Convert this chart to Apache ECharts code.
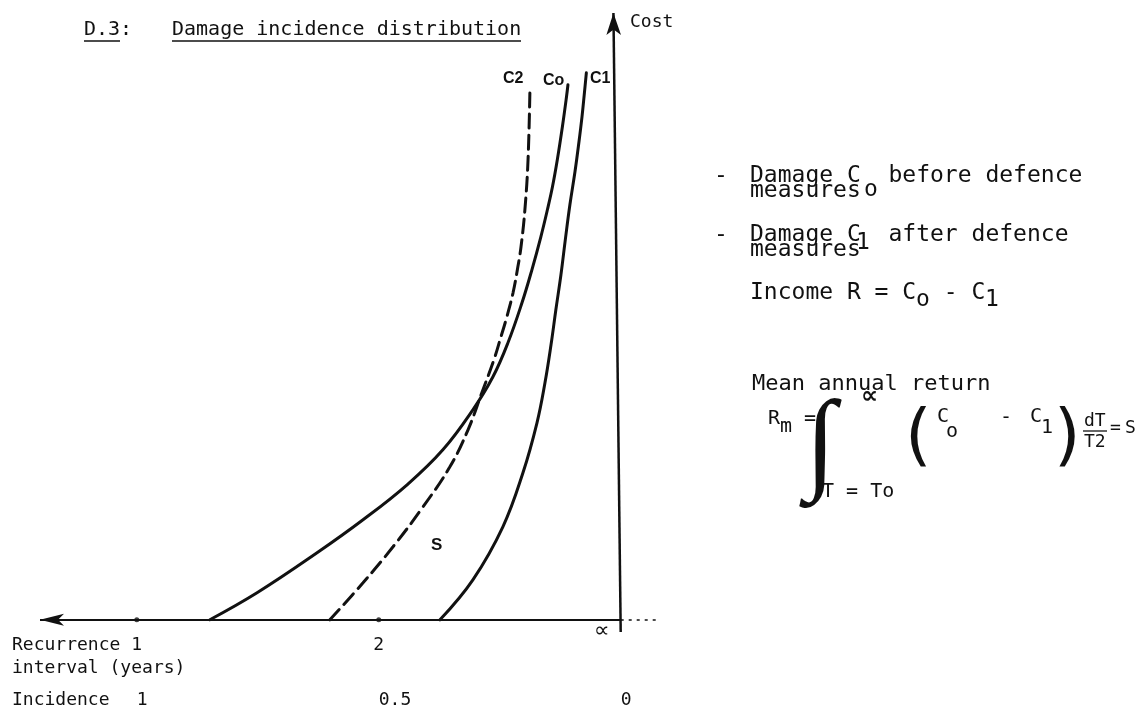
<!DOCTYPE html>
<html>
<head>
<meta charset="utf-8">
<script src="https://cdn.jsdelivr.net/npm/echarts@6/dist/echarts.min.js"></script>
<style>
  html, body { margin: 0; padding: 0; background: #ffffff; }
  #chart { width: 1136px; height: 710px; }
</style>
</head>
<body>
<div id="chart"></div>
<script>
// Horizontal scale is schematic: 1 and 2 stand for recurrence intervals of 1 and 2 years,
// 3 stands for T = infinity (incidence 0), where the cost axis rises.
const recurrenceTicks = [1, 2];
const recurrenceLabels = ['1', '2'];
const incidenceTicks = [1, 2, 3];
const incidenceLabels = ['1', '0.5', '0'];
const infinityPos = 3;

// Damage cost curves as [position, cost]
const curveC0 = [[1.302, 0], [1.497, 4.45], [1.745, 11.04], [1.935, 16.48], [2.117, 22.25], [2.265, 28.02],
  [2.389, 34.61], [2.472, 40.05], [2.534, 45.65], [2.592, 52.24], [2.633, 57.68], [2.670, 63.12],
  [2.697, 67.57], [2.718, 71.36], [2.738, 75.81], [2.759, 81.25], [2.776, 86.19], [2.782, 88.17]];
const curveC1 = [[2.253, 0], [2.389, 6.59], [2.513, 15.33], [2.596, 24.23], [2.654, 32.47], [2.687, 39.06],
  [2.712, 45.32], [2.732, 51.09], [2.753, 56.86], [2.771, 62.62], [2.790, 68.39], [2.811, 73.83],
  [2.827, 78.61], [2.840, 82.89], [2.850, 86.85], [2.858, 90.15]];
const curveC2 = [[1.798, 0], [1.935, 6.10], [2.059, 12.03], [2.183, 18.62], [2.294, 25.21], [2.369, 31.31],
  [2.426, 37.41], [2.476, 42.85], [2.505, 46.64], [2.526, 49.44], [2.555, 53.89], [2.575, 58.17],
  [2.588, 61.47], [2.604, 67.57], [2.617, 75.81], [2.625, 87.67]];

const ink = '#111111';
const mono = '"DejaVu Sans Mono", "Liberation Mono", monospace';
const xMin = 0.6, xMax = 3.15;

function txt(text, x, y, font, extra) {
  return {
    type: 'text', x: x, y: y, silent: true,
    style: Object.assign({ text: text, fill: ink, font: font, textAlign: 'left', textVerticalAlign: 'middle' }, extra || {})
  };
}
function rule(x1, y1, x2, y2, w) {
  return { type: 'line', silent: true, shape: { x1: x1, y1: y1, x2: x2, y2: y2 }, style: { stroke: ink, lineWidth: w } };
}
const m23 = '23px ' + mono, m20 = '20px ' + mono, m18 = '18px ' + mono, m22 = '22px ' + mono;
const boldSans = 'bold 16px "Liberation Sans", Arial, sans-serif';

const chart = echarts.init(document.getElementById('chart'), null, { renderer: 'canvas' });

function curveSeries(name, data, dashed) {
  return {
    name: name, type: 'line', data: data, smooth: 0.4,
    showSymbol: false, silent: true, clip: false, animation: false,
    lineStyle: { color: ink, width: 3, type: dashed ? [14, 7] : 'solid', cap: 'round' }
  };
}

const hiddenX = {
  type: 'value', min: xMin, max: xMax, position: 'bottom',
  axisLine: { show: false, onZero: false }, axisTick: { show: false }, splitLine: { show: false }
};

chart.setOption({
  backgroundColor: '#ffffff',
  animation: false,
  grid: { left: 40, right: 479, top: 13, bottom: 72, containLabel: false, outerBoundsMode: 'none' },
  xAxis: [
    Object.assign({}, hiddenX, {
      axisLabel: {
        customValues: recurrenceTicks,
        formatter: function (v) { return recurrenceLabels[recurrenceTicks.indexOf(v)]; },
        color: ink, fontFamily: mono, fontSize: 18, margin: 7, verticalAlign: 'middle'
      }
    }),
    Object.assign({}, hiddenX, {
      axisLabel: {
        customValues: incidenceTicks,
        formatter: function (v) { return incidenceLabels[incidenceTicks.indexOf(v)]; },
        color: ink, fontFamily: mono, fontSize: 18, margin: 62, verticalAlign: 'middle', align: 'left'
      }
    })
  ],
  yAxis: { type: 'value', min: -3, max: 100, show: false },
  series: [
    curveSeries('C0', curveC0, false),
    curveSeries('C1', curveC1, false),
    curveSeries('C2', curveC2, true),
    {
      name: 'axes', type: 'scatter', silent: true, clip: false, animation: false,
      data: recurrenceTicks.map(function (v) { return [v, 0]; }),
      symbolSize: 5, itemStyle: { color: ink },
      markLine: {
        silent: true, animation: false, symbol: ['none', 'none'], label: { show: false },
        lineStyle: { color: ink, type: 'solid' },
        data: [
          // recurrence axis, arrow pointing left
          [{ coord: [infinityPos, 0], lineStyle: { width: 2, color: ink, type: 'solid' } },
           { coord: [xMin, 0], symbol: 'arrow', symbolSize: [9, 24] }],
          // cost axis, arrow pointing up
          [{ coord: [infinityPos, -2], lineStyle: { width: 2.5, color: ink, type: 'solid' } },
           { coord: [2.97, 100], symbol: 'arrow', symbolSize: [11, 22] }],
          // dotted continuation past infinity
          [{ coord: [infinityPos, 0], lineStyle: { width: 1.5, color: ink, type: [3, 5] } },
           { coord: [xMax, 0] }]
        ]
      }
    }
  ],
  graphic: [
    // heading
    txt('D.3:', 84, 30, '20px ' + mono),
    txt('Damage incidence distribution', 172, 30, '20px ' + mono),
    rule(84, 41, 120, 41, 1.6),
    rule(172, 41, 521, 41, 1.6),
    txt('Cost', 630, 22, m18),
    // curve names
    txt('C2', 503, 79, boldSans),
    txt('Co', 543, 81, boldSans),
    txt('C1', 590, 79, boldSans),
    txt('S', 431, 545, 'bold 17px "Liberation Sans", Arial, sans-serif'),
    txt('\u221D', 594, 631, '22px "DejaVu Sans"'),
    // axis row titles
    txt('Recurrence', 12, 645, m18),
    txt('interval (years)', 12, 668, m18),
    txt('Incidence', 12, 700, m18),
    // notes
    txt('-', 714, 176, m23),
    txt('Damage C  before defence', 750, 176, m23),
    txt('o', 864, 190, m23),
    txt('measures', 750, 191, m23),
    txt('-', 714, 235, m23),
    txt('Damage C  after defence', 750, 235, m23),
    txt('1', 856, 243, m23),
    txt('measures', 750, 250, m23),
    txt('Income R = C  - C', 750, 293, m23),
    txt('o', 916, 300, m23),
    txt('1', 985, 300, m23),
    // mean annual return formula
    txt('Mean annual return', 752, 384, m22),
    txt('R', 768, 419, m20),
    txt('m', 780, 427, m20),
    txt('=', 804, 419, m20),
    txt('\u222B', 805, 449, '112px "Liberation Serif"'),
    txt('\u221D', 861, 397, 'bold 24px "DejaVu Sans"'),
    txt('T = To', 822, 492, m20),
    txt('(', 905, 440, '68px "DejaVu Sans"'),
    txt('C', 937, 417, m20),
    txt('o', 946, 432, m20),
    txt('-', 1000, 418, m20),
    txt('C', 1030, 417, m20),
    txt('1', 1041, 428, m20),
    txt(')', 1054, 440, '68px "DejaVu Sans"'),
    txt('dT', 1084, 421, m18),
    rule(1083, 431, 1107, 431, 1.3),
    txt('T2', 1084, 442, m18),
    txt('=', 1110, 428, m18),
    txt('S', 1125, 428, m18)
  ]
});
</script>
</body>
</html>
